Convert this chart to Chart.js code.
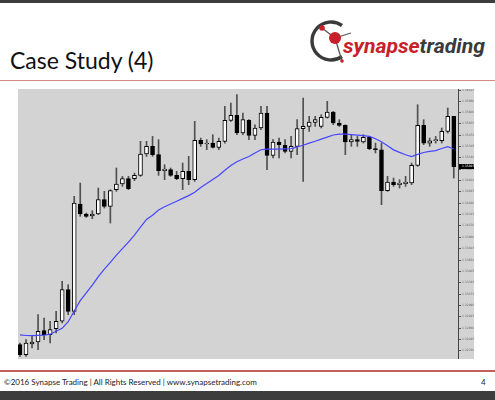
<!DOCTYPE html>
<html>
<head>
<meta charset="utf-8">
<script src="https://cdn.jsdelivr.net/npm/chart.js@4.4.1/dist/chart.umd.min.js"></script>
<style>
  html, body { margin:0; padding:0; width:495px; height:400px; background:#fff; overflow:hidden; position:relative; }
  #topbar { position:absolute; left:0; top:0; width:495px; height:3px; background:#3d3d3d; }
  #botbar { position:absolute; left:0; top:391px; width:495px; height:9px; background:#3d3d3d; }
  #title { position:absolute; left:10px; top:45px; font-family:Lato, "Open Sans", sans-serif; font-size:23px; color:#111; line-height:30px; white-space:nowrap; }
  #rule1 { position:absolute; left:0; top:80px; width:495px; height:1px; background:#d48a8a; }
  #rule2 { position:absolute; left:0; top:370px; width:495px; height:2px; background:#c0605d; }
  #footer { position:absolute; left:4px; top:377px; font-family:Lato, "Open Sans", sans-serif; font-size:8px; color:#222; white-space:nowrap; }
  #pagenum { position:absolute; left:481px; top:377px; font-family:Lato, sans-serif; font-size:8px; color:#222; }
  #logo { position:absolute; left:305px; top:14px; width:185px; height:54px; }
  #wrap { position:absolute; left:18px; top:89px; width:456px; height:270px; background:#d3d3d3; }
</style>
</head>
<body>
<div id="topbar"></div>
<svg id="logo" viewBox="0 0 185 54" xmlns="http://www.w3.org/2000/svg">
  <path d="M 37 11.5 A 19 19 0 1 0 37 42.5" fill="none" stroke="#3a3a3a" stroke-width="3.4"/>
  <line x1="30" y1="24" x2="17" y2="14" stroke="#555" stroke-width="1.3"/>
  <line x1="30" y1="24" x2="46" y2="19" stroke="#555" stroke-width="1.3"/>
  <line x1="30" y1="24" x2="37" y2="47" stroke="#555" stroke-width="1.3"/>
  <circle cx="30" cy="24" r="6" fill="#c8202a"/>
  <circle cx="17" cy="14" r="2.8" fill="#c8202a"/>
  <circle cx="37" cy="47" r="1.8" fill="#c8202a"/>
  <text x="38" y="39" font-family="Roboto, 'Liberation Sans', sans-serif" font-size="21" font-weight="bold" font-style="italic" textLength="142" lengthAdjust="spacingAndGlyphs"><tspan fill="#c8202a">synapse</tspan><tspan fill="#3a3a3a">trading</tspan></text>
</svg>
<div id="title">Case Study (4)</div>
<div id="rule1"></div>
<div id="wrap"><canvas id="c"></canvas></div>
<div id="rule2"></div>
<div id="footer">©2016 Synapse Trading | All Rights Reserved | www.synapsetrading.com</div>
<div id="pagenum">4</div>
<div id="botbar"></div>
<script>
// ---- data ----
const opens = [1.32418,1.32272,1.32428,1.32457,1.32622,1.32564,1.32651,1.32758,1.33219,1.32903,
1.34466,1.34320,1.34291,1.34320,1.34529,1.34432,1.34674,1.34757,1.34834,1.34834,
1.34883,1.35193,1.35305,1.35184,1.34951,1.34965,1.34883,1.34834,1.34941,1.34820,
1.35392,1.35339,1.35353,1.35290,1.35378,1.35683,1.35756,1.35499,1.35683,1.35465,
1.35572,1.35790,1.35174,1.35368,1.35319,1.35232,1.35305,1.35562,1.35596,1.35654,
1.35596,1.35727,1.35805,1.35645,1.35611,1.35368,1.35402,1.35368,1.35436,1.35271,
1.35256,1.34660,1.34786,1.34747,1.34761,1.34771,1.35028,1.35611,1.35353,1.35387,
1.35387,1.35523,1.35742];
const closes = [1.32272,1.32442,1.32457,1.32612,1.32564,1.32636,1.32758,1.33219,1.32903,1.34480,
1.34320,1.34286,1.34320,1.34529,1.34432,1.34660,1.34757,1.34834,1.34689,1.34883,
1.35193,1.35305,1.35184,1.34951,1.34975,1.34883,1.34834,1.34941,1.34820,1.35392,
1.35339,1.35353,1.35290,1.35378,1.35683,1.35756,1.35499,1.35693,1.35465,1.35572,
1.35790,1.35174,1.35368,1.35329,1.35232,1.35305,1.35562,1.35596,1.35659,1.35693,
1.35727,1.35805,1.35645,1.35611,1.35368,1.35402,1.35378,1.35436,1.35271,1.35256,
1.34660,1.34786,1.34747,1.34771,1.34786,1.35028,1.35611,1.35353,1.35387,1.35402,
1.35523,1.35742,1.35010];
const highs = [1.32442,1.32491,1.32539,1.32855,1.32806,1.32758,1.32903,1.33340,1.33291,1.34577,
1.34771,1.34334,1.34368,1.34698,1.34650,1.34674,1.34990,1.34868,1.34868,1.34917,
1.35378,1.35378,1.35450,1.35402,1.35038,1.34990,1.34941,1.35062,1.35159,1.35669,
1.35426,1.35402,1.35475,1.35426,1.35887,1.35936,1.36057,1.35790,1.35693,1.35620,
1.35887,1.35887,1.35402,1.35426,1.35402,1.35450,1.35693,1.36008,1.35742,1.35742,
1.35766,1.35960,1.35814,1.35693,1.35620,1.35475,1.35450,1.35475,1.35450,1.35353,
1.35353,1.34868,1.34844,1.34820,1.34868,1.35062,1.35911,1.35693,1.35426,1.35450,
1.35572,1.35863,1.35742];
const lows = [1.32248,1.32248,1.32369,1.32345,1.32491,1.32442,1.32588,1.32733,1.32855,1.32855,
1.34286,1.34271,1.34252,1.34310,1.34407,1.34189,1.34650,1.34723,1.34674,1.34805,
1.34868,1.35159,1.35159,1.34883,1.34820,1.34868,1.34820,1.34674,1.34747,1.34795,
1.35305,1.35256,1.35281,1.35256,1.35353,1.35669,1.35475,1.35475,1.35402,1.35402,
1.35547,1.34965,1.35135,1.35135,1.35208,1.35135,1.35184,1.34795,1.35523,1.35596,
1.35572,1.35717,1.35620,1.35596,1.35184,1.35305,1.35305,1.35353,1.35256,1.35208,
1.34456,1.34650,1.34723,1.34698,1.34723,1.34747,1.35014,1.35329,1.35305,1.35353,
1.35353,1.35499,1.34844];
const movingAverage = [1.32560,1.32551,1.32550,1.32553,1.32555,1.32570,1.32614,1.32655,1.32752,1.32908,
1.33058,1.33170,1.33286,1.33407,1.33516,1.33617,1.33720,1.33816,1.33912,1.34014,
1.34128,1.34241,1.34301,1.34378,1.34425,1.34465,1.34506,1.34547,1.34588,1.34637,
1.34707,1.34764,1.34822,1.34880,1.34958,1.35027,1.35080,1.35121,1.35158,1.35208,
1.35256,1.35266,1.35266,1.35266,1.35268,1.35271,1.35295,1.35321,1.35351,1.35380,
1.35410,1.35439,1.35470,1.35484,1.35484,1.35477,1.35468,1.35460,1.35451,1.35415,
1.35371,1.35313,1.35254,1.35217,1.35183,1.35157,1.35188,1.35215,1.35231,1.35244,
1.35273,1.35300,1.35266];
const tickLabels = ["1.36125","1.35960","1.35800","1.35635","1.35470","1.35305","1.35140","1.34975",
"1.34810","1.34645","1.34480","1.34315","1.34150","1.33980","1.33815","1.33650","1.33485","1.33320",
"1.33155","1.32990","1.32825","1.32660","1.32495","1.32330"];
const currentPriceLabel = "1.35025";
const categories = opens.map((_, i) => i);

// ---- build datasets ----
const bodyData = categories.map(i => ({x: i, y: [opens[i], closes[i]]}));
const wickData = categories.map(i => ({x: i, y: [lows[i], highs[i]]}));
const maData = categories.map(i => ({x: i, y: movingAverage[i]}));
const bodyFill = categories.map(i => closes[i] >= opens[i] ? '#ffffff' : '#000000');
const tickValues = tickLabels.map(Number);

const priceTag = {
  id: 'priceTag',
  afterDraw(chart) {
    const y = chart.scales.y.getPixelForValue(closes[closes.length - 1]);
    const ctx = chart.ctx;
    const x0 = chart.chartArea.right + 1;
    ctx.save();
    ctx.fillStyle = '#000';
    ctx.fillRect(x0, Math.round(y) - 3, 15, 5);
    ctx.fillStyle = '#fff';
    ctx.font = '3px "DejaVu Sans", sans-serif';
    ctx.textBaseline = 'middle';
    ctx.fillText(currentPriceLabel, x0 + 3, Math.round(y) - 0.5);
    ctx.restore();
  }
};

new Chart(document.getElementById('c'), {
  type: 'bar',
  data: {
    datasets: [
      { type: 'line', data: maData, borderColor: '#4646ff', borderWidth: 1.2, pointRadius: 0, tension: 0, order: 1 },
      { data: bodyData, backgroundColor: bodyFill, borderColor: '#000', borderWidth: 1, borderSkipped: false,
        barThickness: 4, grouped: false, order: 2 },
      { data: wickData, backgroundColor: '#505050', borderWidth: 0, barThickness: 1, grouped: false, order: 3 }
    ]
  },
  options: {
    responsive: true,
    maintainAspectRatio: false,
    animation: false,
    layout: { padding: 0 },
    plugins: { legend: { display: false }, tooltip: { enabled: false } },
    scales: {
      x: { type: 'linear', min: -0.33, max: 72.7, display: false, offset: false },
      y: {
        position: 'right',
        min: 1.32209, max: 1.36140,
        afterBuildTicks(scale) { scale.ticks = tickValues.map(v => ({ value: v })); },
        afterFit(scale) { scale.width = 16; scale.paddingTop = 0; scale.paddingBottom = 0; },
        ticks: {
          autoSkip: false,
          padding: 1,
          color: '#666',
          font: { size: 3, family: 'DejaVu Sans' },
          callback: (v, i) => tickLabels[i]
        },
        grid: { drawOnChartArea: false, color: '#555', tickLength: 3 },
        border: { color: '#444', width: 1 }
      }
    }
  },
  plugins: [priceTag]
});
</script>
</body>
</html>
